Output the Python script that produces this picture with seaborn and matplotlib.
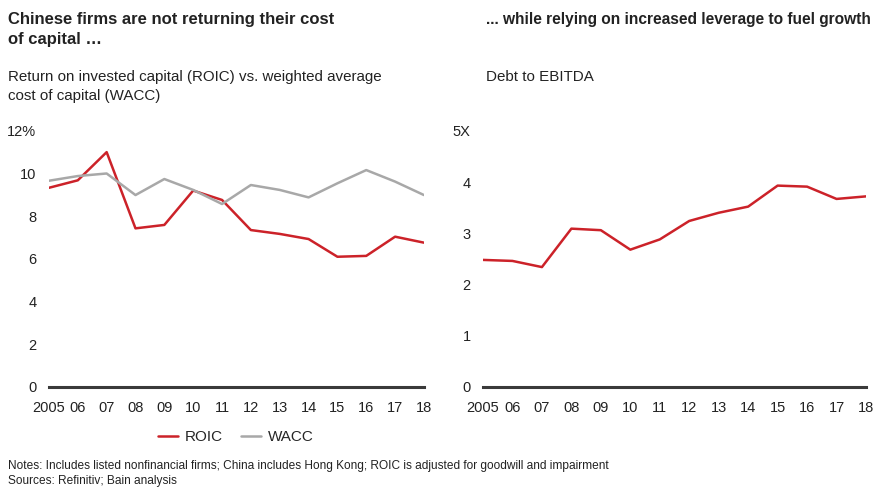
import pandas as pd
import numpy as np
import matplotlib
matplotlib.use("Agg")
import matplotlib.pyplot as plt
import seaborn as sns

# Values
years = list(range(2005, 2019))
year_labels = ["2005", "06", "07", "08", "09", "10", "11", "12", "13", "14", "15", "16", "17", "18"]
roic = [9.33, 9.68, 11.0, 7.43, 7.59, 9.2, 8.76, 7.35, 7.17, 6.93, 6.1, 6.14, 7.04, 6.76]
wacc = [9.66, 9.88, 10.0, 8.99, 9.74, 9.23, 8.57, 9.46, 9.23, 8.88, 9.54, 10.16, 9.62, 8.99]
debt_ebitda = [2.48, 2.46, 2.34, 3.09, 3.06, 2.68, 2.88, 3.24, 3.40, 3.52, 3.93, 3.91, 3.67, 3.72]

left_ticks = [0, 2, 4, 6, 8, 10, 12]
left_tick_labels = ["0", "2", "4", "6", "8", "10", "12%"]
right_ticks = [0, 1, 2, 3, 4, 5]
right_tick_labels = ["0", "1", "2", "3", "4", "5X"]

RED = "#cc2229"
GRAY = "#a8a8a8"
AXIS = "#3a3a3a"
TEXT = "#222222"

sns.set_theme(style="white")
plt.rcParams["font.family"] = ["Liberation Sans", "DejaVu Sans"]

# Long format table for the ROIC / WACC panel
left_df = pd.DataFrame({
    "Year": years * 2,
    "Value": roic + wacc,
    "Series": ["ROIC"] * len(years) + ["WACC"] * len(years),
})
right_df = pd.DataFrame({"Year": years, "Value": debt_ebitda})

fig = plt.figure(figsize=(8.79, 4.88), dpi=100)
ax1 = fig.add_axes([0.0557, 0.207, 0.4266, 0.525])
ax2 = fig.add_axes([0.5495, 0.207, 0.4357, 0.525])

sns.lineplot(data=left_df, x="Year", y="Value", hue="Series",
             palette={"ROIC": RED, "WACC": GRAY}, linewidth=1.8, ax=ax1)
sns.lineplot(data=right_df, x="Year", y="Value", color=RED, linewidth=1.8, ax=ax2)

for ax, ticks, labels in [(ax1, left_ticks, left_tick_labels),
                          (ax2, right_ticks, right_tick_labels)]:
    ax.set_xlim(years[0], years[-1])
    ax.set_ylim(ticks[0], ticks[-1])
    ax.set_yticks(ticks)
    ax.set_yticklabels(labels)
    ax.set_xticks(years)
    ax.set_xticklabels(year_labels)
    ax.set_xlabel("")
    ax.set_ylabel("")
    for s in ["top", "right", "left"]:
        ax.spines[s].set_visible(False)
    ax.spines["bottom"].set_color(AXIS)
    ax.spines["bottom"].set_linewidth(2.2)
    ax.tick_params(axis="both", length=0, labelsize=10.5, colors=TEXT)
    ax.tick_params(axis="y", pad=9)
    ax.tick_params(axis="x", pad=10)

ax1.legend_.remove()
handles, labels = ax1.get_legend_handles_labels()
fig.legend(handles, labels, loc="center", bbox_to_anchor=(0.268, 0.104),
           ncol=2, frameon=False, fontsize=11, handlelength=1.3,
           columnspacing=1.2, handletextpad=0.45)

# Titles and subtitles
fig.text(0.009, 0.975, "Chinese firms are not returning their cost\nof capital \u2026",
         fontsize=12, fontweight="bold", color=TEXT, va="top", linespacing=1.4)
fig.text(0.553, 0.975, "... while relying on increased leverage to fuel growth",
         fontsize=11.2, fontweight="bold", color=TEXT, va="top")
fig.text(0.009, 0.857, "Return on invested capital (ROIC) vs. weighted average\ncost of capital (WACC)",
         fontsize=10.9, color=TEXT, va="top", linespacing=1.5)
fig.text(0.553, 0.857, "Debt to EBITDA", fontsize=10.9, color=TEXT, va="top")

# Notes
fig.text(0.009, 0.045, "Notes: Includes listed nonfinancial firms; China includes Hong Kong; "
         "ROIC is adjusted for goodwill and impairment",
         fontsize=8.6, color=TEXT, va="center")
fig.text(0.009, 0.014, "Sources: Refinitiv; Bain analysis", fontsize=8.6, color=TEXT, va="center")

fig.savefig("out.png", dpi=100)
